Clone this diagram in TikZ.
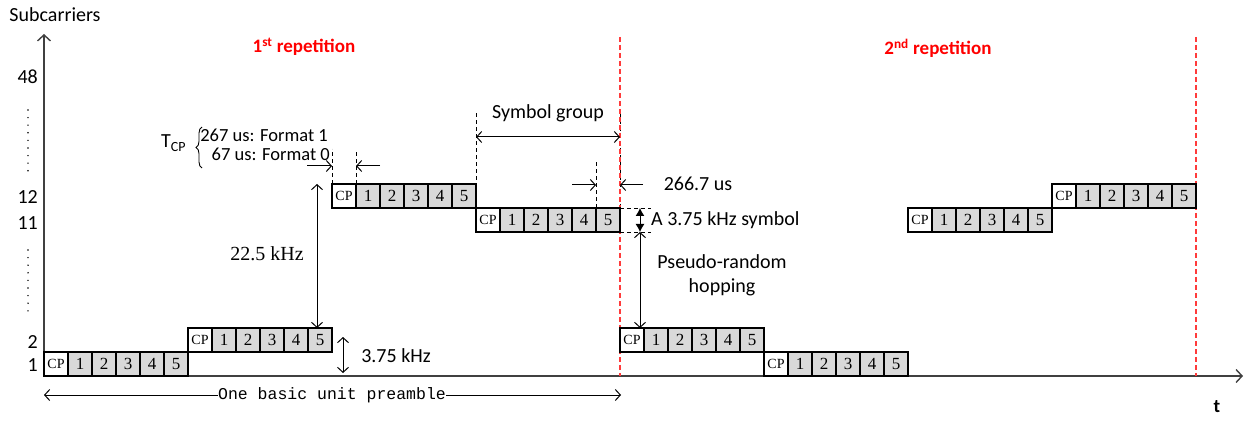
\documentclass[tikz,border=0pt]{standalone}
\usepackage{fontspec}
\setmainfont{Liberation Serif}
\setsansfont{Carlito}
\setmonofont{Liberation Mono}
\usetikzlibrary{arrows.meta,calc,decorations.pathreplacing}

\definecolor{cellgray}{HTML}{D9D9D9}
\definecolor{axisgray}{HTML}{404040}
\definecolor{repred}{HTML}{FF3B3B}
\definecolor{titlered}{HTML}{FF0000}

% one symbol group: CP cell followed by five symbol cells
\newcommand\symgroup[3]{%
  \node[cpcell] (#1-0) at (#2,#3) {CP};
  \foreach \k in {1,...,5}{\node[numcell] (#1-\k) at ({#2+24*\k},#3) {\k};}
}

\begin{document}
\begin{tikzpicture}[x=1pt,y=-1pt,
  cell/.style={draw=black, line width=1.1pt, minimum width=24pt, minimum height=24pt,
    inner sep=0pt, outer sep=0pt, anchor=north west},
  cpcell/.style={cell, fill=white, font=\fontsize{14}{14}\selectfont},
  numcell/.style={cell, fill=cellgray, font=\fontsize{17}{17}\selectfont},
  lbl/.style={font=\sffamily\fontsize{20}{24}\selectfont, inner sep=0pt},
  tick/.style={lbl, anchor=east},
  reptitle/.style={font=\sffamily\bfseries\fontsize{19}{20}\selectfont, text=titlered, inner sep=0pt},
  axis/.style={draw=axisgray, line width=1.4pt, -{Straight Barb[length=6pt,width=13pt]}},
  dim/.style={line width=1pt, {Straight Barb[length=5pt,width=11pt]}-{Straight Barb[length=5pt,width=11pt]}},
  pointer/.style={line width=1pt, -{Straight Barb[length=5pt,width=11pt]}},
  guide/.style={line width=1pt, dash pattern=on 4pt off 3pt},
  boundary/.style={draw=repred, line width=1.8pt, dash pattern=on 5pt off 3pt},
  vdots/.style={draw=black, line width=1.6pt, line cap=round, dash pattern=on 0pt off 7.6pt},
]
\useasboundingbox (0,0) rectangle (1248,422);

% axes
\coordinate (O) at (44,376);
\coordinate (ytop) at (44,34);
\coordinate (xend) at (1243,376);
\draw[axis] (O) -- (ytop);
\draw[axis] (O) -- (xend);
\node[lbl] (ylabel) at (55,15) {Subcarriers};
\node[font=\sffamily\bfseries\fontsize{19}{20}\selectfont, inner sep=0pt] (xlabel) at (1217,407) {t};

% subcarrier indices
\node[tick] (n48) at (38,77) {48};
\node[tick] (n12) at (38,197) {12};
\node[tick] (n11) at (38,223) {11};
\node[tick] (n2) at (38,342) {2};
\node[tick] (n1) at (38,365) {1};
\draw[vdots] (28,110) -- (28,172);
\draw[vdots] (28,250) -- (28,311);

% guide line behind the repetition boundary
\draw[guide] (620,113) -- (620,208);

% repetition boundaries
\draw[boundary] (620,37) -- (620,376);
\draw[boundary] (1196,37) -- (1196,376);
\node[reptitle] (rep1) at (304,47) {1\textsuperscript{st} repetition};
\node[reptitle] (rep2) at (938,48) {2\textsuperscript{nd} repetition};

% symbol groups
\symgroup{A}{44}{352}
\symgroup{B}{188}{328}
\symgroup{C}{332}{184}
\symgroup{D}{476}{208}
\symgroup{E}{620}{328}
\symgroup{F}{764}{352}
\symgroup{G}{908}{208}
\symgroup{H}{1052}{184}

% cyclic prefix length
\node[lbl, anchor=base west] (tcp) at (161,148) {T\textsubscript{CP}};
\draw[line width=0.9pt, decorate, decoration={brace, amplitude=6pt}] (202,168) -- (202,127);
\node[lbl, font=\sffamily\fontsize{18.5}{24}\selectfont, anchor=east] (fmt1) at (328,135) {267 us: Format 1};
\node[lbl, font=\sffamily\fontsize{18.5}{24}\selectfont, anchor=east] (fmt0) at (330,154) {67 us: Format 0};
\coordinate (cpL) at (332,149);
\coordinate (cpR) at (356,151);
\draw[guide] (C-0.north west) -- (cpL);
\draw[guide] (C-0.north east) -- (cpR);
\draw[pointer] ($(C-0.north west)+(-25,-18)$) -- ($(C-0.north west)+(0,-18)$);
\draw[pointer] ($(C-0.north east)+(24,-18)$) -- ($(C-0.north east)+(0,-18)$);

% 22.5 kHz hop
\coordinate (h22a) at (317,184);
\coordinate (h22b) at (317,328);
\draw[dim] (h22a) -- (h22b);
\node[font=\fontsize{20}{22}\selectfont, inner sep=0pt] (k22) at (267,254) {22.5 kHz};

% 3.75 kHz hop
\coordinate (h375a) at (343,337);
\coordinate (h375b) at (343,373);
\draw[dim] (h375a) -- (h375b);
\node[lbl] (k375) at (396,356) {3.75 kHz};

% symbol group span
\coordinate (sgL) at (476,112);
\draw[guide] (D-0.north west) -- (sgL);
\draw[dim] (476,137) -- (620,137);
\node[lbl] (sg) at (548,113) {Symbol group};

% one symbol duration
\coordinate (symL) at (596,160);
\draw[guide] (D-5.north west) -- (symL);
\draw[pointer] ($(D-5.north west)+(-24,-23)$) -- ($(D-5.north west)+(0,-23)$);
\draw[pointer] ($(D-5.north east)+(23,-23)$) -- ($(D-5.north east)+(0,-23)$);
\node[lbl] (t267) at (698,184) {266.7 us};

% one subcarrier width
\coordinate (scTop) at (651,208);
\coordinate (scBot) at (651,232);
\draw[guide, line width=0.8pt] (D-5.north east) -- (scTop);
\draw[guide, line width=0.8pt] (D-5.south east) -- (scBot);
\draw[line width=1pt, {Latex[length=8pt,width=9pt]}-{Latex[length=8pt,width=9pt]}] (640,208) -- (640,232);
\node[lbl, anchor=west] (symw) at (651,220) {A 3.75 kHz symbol};

% hopping between repetitions
\coordinate (hopTop) at (640,232);
\coordinate (hopBot) at (640,328);
\draw[dim] (hopTop) -- (hopBot);
\node[lbl, align=center] (hop) at (722,275) {Pseudo-random\\hopping};

% preamble length
\coordinate (preL) at (44,395);
\coordinate (preR) at (621,395);
\draw[dim] (preL) -- (preR);
\node[font=\ttfamily\fontsize{16.5}{18}\selectfont, fill=white, inner xsep=0pt, inner ysep=2pt] (pre) at (332,395) {One basic unit preamble};
\end{tikzpicture}
\end{document}
